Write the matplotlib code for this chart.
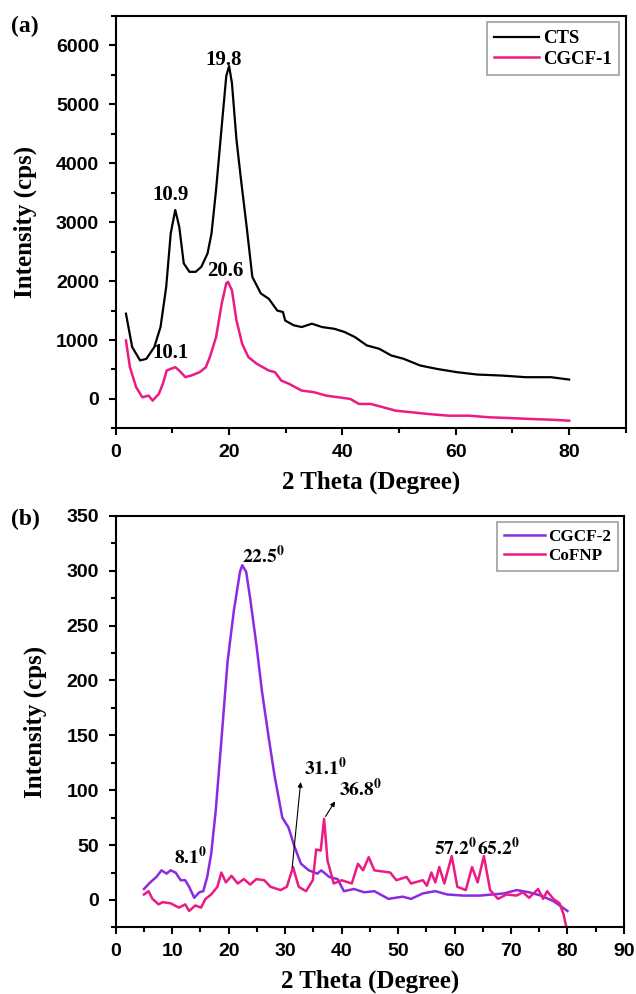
import numpy as np
import matplotlib.pyplot as plt
from matplotlib.ticker import MultipleLocator

plt.rcParams['mathtext.fontset'] = 'stix'

# ---- panel (a) data ----
cts_x = [1.8, 2.9, 4.3, 5.4, 6.8, 7.9, 8.9, 9.7, 10.5, 11.2, 12.0, 13.0, 14.1, 15.1,
         16.2, 16.9, 17.7, 18.7, 19.5, 20.0, 20.5, 21.3, 22.1, 23.1, 24.1, 25.6, 27.0,
         28.5, 29.5, 29.9, 31.4, 32.8, 34.6, 36.4, 38.6, 40.4, 42.2, 44.3, 46.5, 48.6,
         50.8, 53.7, 56.6, 60.2, 63.8, 68.1, 72.4, 76.8, 80.0]
cts_y = [1447, 880, 653, 681, 880, 1220, 1900, 2810, 3207, 2923, 2300, 2157, 2157, 2242,
         2470, 2810, 3550, 4630, 5480, 5650, 5360, 4400, 3720, 2920, 2070, 1790, 1700,
         1500, 1475, 1330, 1250, 1220, 1277, 1220, 1190, 1135, 1050, 908, 851, 738,
         681, 568, 511, 454, 414, 397, 369, 369, 329]

cgcf1_x = [1.8, 2.5, 3.6, 4.7, 5.8, 6.5, 7.6, 8.3, 9.0, 9.7, 10.5, 11.2, 12.3, 13.3,
           14.8, 15.9, 16.6, 17.7, 18.7, 19.5, 19.8, 20.5, 21.3, 22.3, 23.4, 24.9,
           27.0, 28.1, 29.2, 30.6, 32.8, 35.0, 37.1, 39.3, 41.4, 42.9, 45.0, 47.2,
           49.4, 52.3, 55.1, 58.7, 62.3, 66.0, 69.5, 73.2, 76.8, 80.0]
cgcf1_y = [993, 539, 199, 28, 57, -28, 85, 255, 482, 511, 539, 482, 369, 397,
           454, 539, 710, 1050, 1618, 1960, 1987, 1845, 1334, 937, 710, 596,
           482, 454, 312, 255, 142, 114, 57, 28, 0, -85, -85, -142,
           -199, -227, -255, -284, -284, -312, -324, -340, -352, -369]

# ---- panel (b) data ----
cgcf2_x = [5.0, 6.1, 7.2, 8.1, 9.0, 9.7, 10.6, 11.5, 12.3, 13.0, 13.9, 14.8, 15.5, 16.2,
           16.9, 17.7, 18.7, 19.8, 20.9, 22.0, 22.4, 23.1, 23.8, 24.9, 25.9, 27.0, 28.1,
           29.5, 30.6, 31.7, 32.8, 34.2, 35.7, 36.4, 37.8, 39.3, 40.4, 42.2, 44.0, 45.8,
           48.3, 50.8, 52.3, 54.4, 56.6, 58.7, 61.6, 64.5, 66.7, 68.8, 71.0, 73.2, 75.3,
           77.5, 80.0]
cgcf2_y = [10, 16, 21, 27, 24, 27, 25, 18, 18, 12, 2, 7, 8, 21,
           42, 81, 145, 217, 263, 299, 305, 299, 275, 233, 190, 151, 114,
           75, 66, 48, 33, 27, 24, 27, 21, 19, 8, 10, 7, 8,
           1, 3, 1, 6, 8, 5, 4, 4, 5, 6, 9, 7, 4,
           -1, -10]

cofnp_x = [5.0, 5.8, 6.5, 7.6, 8.3, 9.7, 11.2, 12.3, 13.0, 14.1, 15.1, 15.9, 16.9, 18.0,
           18.7, 19.5, 20.5, 21.6, 22.7, 23.8, 24.9, 26.3, 27.4, 29.2, 30.3, 31.4, 32.4,
           33.7, 34.9, 35.5, 36.3, 36.9, 37.5, 38.6, 40.0, 41.8, 42.9, 43.8, 44.8, 45.8,
           48.6, 49.7, 51.5, 52.3, 54.4, 55.1, 55.9, 56.6, 57.3, 58.2, 59.5, 60.5, 62.0,
           63.1, 64.1, 65.2, 66.3, 67.7, 69.2, 71.0, 72.1, 73.2, 74.8, 75.7, 76.4, 77.5,
           78.6, 79.3, 79.9]
cofnp_y = [5, 8, 1, -4, -2, -3, -7, -4, -10, -5, -7, 1, 5, 12,
           25, 16, 22, 15, 19, 14, 19, 18, 12, 9, 12, 30, 12,
           8, 18, 46, 45, 74, 36, 15, 18, 15, 33, 27, 39, 27,
           25, 18, 21, 15, 18, 13, 25, 16, 30, 15, 40, 12, 9,
           30, 16, 40, 9, 1, 5, 4, 7, 2, 10, 1, 8, 1,
           -3, -13, -27]

pink = '#ec1a83'
purple = '#8a2be2'
serif = 'Liberation Serif'
sans = 'Liberation Sans'

fig = plt.figure(figsize=(6.36, 9.94), dpi=100)
ax1 = fig.add_axes([0.182, 0.569, 0.802, 0.415])
ax2 = fig.add_axes([0.182, 0.067, 0.799, 0.414])


def style(ax):
    for s in ax.spines.values():
        s.set_linewidth(1.5)
    ax.tick_params(which='both', direction='out', width=1.5, top=False, right=False)
    ax.tick_params(which='major', length=5)
    ax.tick_params(which='minor', length=3.5)
    ax.tick_params(axis='x', pad=6)
    ax.tick_params(axis='y', pad=7)
    for lab in ax.get_xticklabels() + ax.get_yticklabels():
        lab.set_fontfamily(sans)
        lab.set_fontweight('bold')
        lab.set_fontsize(14)
    ax.set_xlabel('2 Theta (Degree)', fontfamily=serif, fontweight='bold', fontsize=18,
                  labelpad=7)
    ax.set_ylabel('Intensity (cps)', fontfamily=serif, fontweight='bold', fontsize=18,
                  labelpad=14)


def legend_kw(size):
    return dict(loc='upper right', prop={'family': serif, 'weight': 'bold', 'size': size},
                fancybox=False, edgecolor='#888888', handlelength=2.4, handletextpad=0.2,
                borderaxespad=0.35, labelspacing=0.2, borderpad=0.4)


# (a)
ax1.plot(cts_x, cts_y, color='black', lw=1.6, label='CTS')
ax1.plot(cgcf1_x, cgcf1_y, color=pink, lw=1.8, label='CGCF-1')
ax1.set_xlim(0, 90)
ax1.set_ylim(-500, 6500)
ax1.set_xticks([0, 20, 40, 60, 80])
ax1.xaxis.set_minor_locator(MultipleLocator(10))
ax1.yaxis.set_minor_locator(MultipleLocator(500))
ax1.set_yticks(range(0, 6001, 1000))
style(ax1)
ann = dict(fontfamily=serif, fontweight='bold', fontsize=15, ha='center', va='center')
ax1.text(19.0, 5760, '19.8', **ann)
ax1.text(9.7, 3460, '10.9', **ann)
ax1.text(19.3, 2170, '20.6', **ann)
ax1.text(9.7, 780, '10.1', **ann)
leg1 = ax1.legend(**legend_kw(13.5))
leg1.get_frame().set_linewidth(1.2)
fig.text(0.018, 0.973, '(a)', fontfamily=serif, fontweight='bold', fontsize=17, va='center')

# (b)
ax2.plot(cgcf2_x, cgcf2_y, color=purple, lw=1.8, label='CGCF-2')
ax2.plot(cofnp_x, cofnp_y, color=pink, lw=1.8, label='CoFNP')
ax2.set_xlim(0, 90)
ax2.set_ylim(-25, 350)
ax2.xaxis.set_major_locator(MultipleLocator(10))
ax2.xaxis.set_minor_locator(MultipleLocator(5))
ax2.yaxis.set_minor_locator(MultipleLocator(25))
ax2.set_yticks(range(0, 351, 50))
style(ax2)
ann2 = dict(fontsize=14, ha='left', va='center')
ax2.text(22.3, 313, r'$\mathbf{22.5^0}$', **ann2)
ax2.text(10.4, 39, r'$\mathbf{8.1^0}$', **ann2)
ax2.text(33.4, 120, r'$\mathbf{31.1^0}$', **ann2)
ax2.text(39.5, 101, r'$\mathbf{36.8^0}$', **ann2)
ax2.text(56.3, 47, r'$\mathbf{57.2^0}$', **ann2)
ax2.text(64.0, 47, r'$\mathbf{65.2^0}$', **ann2)
arrow = dict(arrowstyle='-|>', color='black', lw=0.8, mutation_scale=7)
ax2.annotate('', xy=(32.8, 110), xytext=(31.2, 27), arrowprops=arrow)
ax2.annotate('', xy=(39.1, 92), xytext=(36.9, 74), arrowprops=arrow)
leg2 = ax2.legend(**legend_kw(12.3))
leg2.get_frame().set_linewidth(1.2)
fig.text(0.018, 0.477, '(b)', fontfamily=serif, fontweight='bold', fontsize=17, va='center')

fig.savefig('out.png', dpi=100)
